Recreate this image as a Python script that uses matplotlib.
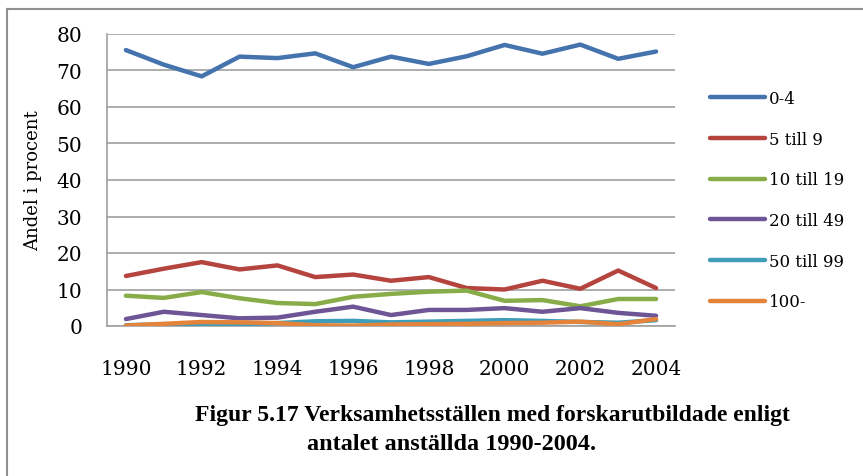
import matplotlib
matplotlib.use("Agg")
import matplotlib.pyplot as plt
from matplotlib.lines import Line2D

years = list(range(1990, 2005))
labels = ["0-4", "5 till 9", "10 till 19", "20 till 49", "50 till 99", "100-"]
s0_4 = [75.6, 71.6, 68.4, 73.8, 73.4, 74.7, 70.9, 73.8, 71.8, 73.9, 77.0, 74.6, 77.1, 73.2, 75.2]
s5_9 = [13.7, 15.7, 17.5, 15.5, 16.6, 13.4, 14.1, 12.4, 13.4, 10.4, 10.0, 12.4, 10.2, 15.2, 10.4]
s10_19 = [8.3, 7.7, 9.3, 7.6, 6.3, 6.0, 8.0, 8.8, 9.4, 9.7, 6.9, 7.1, 5.4, 7.4, 7.4]
s20_49 = [1.9, 3.9, 3.0, 2.1, 2.3, 3.9, 5.3, 3.0, 4.4, 4.4, 4.9, 3.9, 4.9, 3.6, 2.8]
s50_99 = [0.2, 0.5, 0.3, 0.5, 0.8, 1.3, 1.4, 1.0, 1.2, 1.4, 1.6, 1.4, 1.1, 0.9, 1.6]
s100 = [0.1, 0.6, 1.1, 1.0, 0.8, 0.2, 0.1, 0.4, 0.5, 0.6, 0.8, 0.9, 1.2, 0.5, 1.9]
series = [s0_4, s5_9, s10_19, s20_49, s50_99, s100]
colors = ['#4573AE', '#B5443F', '#88AC48', '#6E5596', '#3E9DB9', '#E4843A']
yticks = [0, 10, 20, 30, 40, 50, 60, 70, 80]
xticks = list(range(1990, 2005, 2))
title1 = "Figur 5.17 Verksamhetsställen med forskarutbildade enligt"
title2 = "antalet anställda 1990-2004."

plt.rcParams['font.family'] = ['DejaVu Serif']

W, H = 863, 477
fig = plt.figure(figsize=(W / 100, H / 100), dpi=100)
ax = fig.add_axes([107 / W, 1 - 327 / H, (675 - 107) / W, (327 - 35) / H])

for vals, c, lab in zip(series, colors, labels):
    ax.plot(years, vals, color=c, lw=3.2, label=lab, solid_capstyle='round', solid_joinstyle='round', zorder=3)

ax.set_xlim(1989.5, 2004.5)
ax.set_ylim(0, 80)
ax.set_yticks(yticks)
ax.set_xticks(xticks)
ax.tick_params(length=0, labelsize=14.5)
ax.tick_params(axis='y', pad=18)
ax.tick_params(axis='x', pad=24)
ax.grid(axis='y', color='#A0A0A0', lw=1.2, zorder=1)
for s in ['top', 'right']:
    ax.spines[s].set_visible(False)
for s in ['left', 'bottom']:
    ax.spines[s].set_color('#A0A0A0')
    ax.spines[s].set_linewidth(1.2)
ax.set_ylabel("Andel i procent", fontsize=13, labelpad=10)

leg = ax.legend(loc='upper left', bbox_to_anchor=(710 / W, 1 - 91 / H), bbox_transform=fig.transFigure,
                frameon=False, fontsize=12, handlelength=3.3, handletextpad=0.24,
                labelspacing=1.42, borderaxespad=0, borderpad=0)

fig.text(492 / W, 1 - 421 / H, title1, ha='center', va='baseline', fontsize=17, fontweight='bold',
         family=['Liberation Serif'])
fig.text(452 / W, 1 - 450 / H, title2, ha='center', va='baseline', fontsize=17.5, fontweight='bold',
         family=['Liberation Serif'])

# outer frame
fig.add_artist(Line2D([7 / W, 7 / W], [0, 1 - 10 / H], transform=fig.transFigure, color='#909090', lw=1.5))
fig.add_artist(Line2D([7 / W, 1], [1 - 10 / H, 1 - 10 / H], transform=fig.transFigure, color='#909090', lw=1.5))

fig.savefig("out.png", dpi=100)
